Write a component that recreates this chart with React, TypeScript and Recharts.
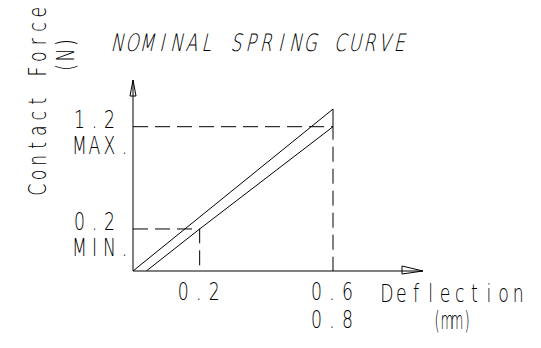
import React from "react";
import { LineChart, Line, XAxis, YAxis, ReferenceDot } from "recharts";

// ---- data ----
const TITLE = "NOMINAL SPRING CURVE";
const Y_LABEL = "Contact Force";
const Y_UNIT = "(N)";
const X_LABEL = "Deflection";
const X_UNIT = "(mm)";

const X_TICKS = [0.2, 0.6];
const X_TICK_LABELS = [["0.2"], ["0.6", "0.8"]];
const Y_TICKS = [0.2, 1.2];
const Y_TICK_LABELS = [["0.2", "MIN."], ["1.2", "MAX."]];

const X_MAX = 0.87;
const Y_MAX = 1.65;

// schematic (not-to-scale) force axis: value knots and their share of the axis height
const Y_KNOT_VALUES = [0, 0.2, 1.2, 1.65];
const Y_KNOT_SHARES = [0, 0.22, 0.7555, 1];

// spring curve band (upper and lower bounds)
const UPPER_CURVE = [
  { x: 0, y: 0 },
  { x: 0.6, y: 1.37 },
  { x: 0.6, y: 1.2 },
];
const LOWER_CURVE = [
  { x: 0.04, y: 0 },
  { x: 0.2, y: 0.2 },
  { x: 0.6, y: 1.2 },
];
// dashed guides
const MIN_GUIDE = [
  { x: 0, y: 0.2 },
  { x: 0.2, y: 0.2 },
  { x: 0.2, y: 0 },
];
const MAX_GUIDE = [
  { x: 0, y: 1.2 },
  { x: 0.6, y: 1.2 },
  { x: 0.6, y: 0 },
];

// ---- piecewise linear scale (d3-like) ----
function piecewiseScale(kv: number[], ks: number[]): any {
  let dom = [kv[0], kv[kv.length - 1]];
  let rng = [0, 1];
  const toShare = (v: number) => {
    let i = 0;
    while (i < kv.length - 2 && v > kv[i + 1]) i++;
    const t = (v - kv[i]) / (kv[i + 1] - kv[i]);
    return ks[i] + t * (ks[i + 1] - ks[i]);
  };
  const fromShare = (s: number) => {
    let i = 0;
    while (i < ks.length - 2 && s > ks[i + 1]) i++;
    const t = (s - ks[i]) / (ks[i + 1] - ks[i]);
    return kv[i] + t * (kv[i + 1] - kv[i]);
  };
  const scale: any = (v: number) => rng[0] + toShare(v) * (rng[1] - rng[0]);
  scale.domain = (d?: number[]) => {
    if (d === undefined) return dom.slice();
    dom = d.slice();
    return scale;
  };
  scale.range = (r?: number[]) => {
    if (r === undefined) return rng.slice();
    rng = r.slice();
    return scale;
  };
  scale.copy = () => piecewiseScale(kv, ks).domain(dom).range(rng);
  scale.ticks = () => kv.slice();
  scale.tickFormat = () => (v: number) => String(v);
  scale.invert = (px: number) => fromShare((px - rng[0]) / (rng[1] - rng[0]));
  scale.clamp = () => scale;
  scale.nice = () => scale;
  return scale;
}

const yScale = piecewiseScale(Y_KNOT_VALUES, Y_KNOT_SHARES);

const FONT = "'DejaVu Sans', sans-serif";
const FS = 24;
const SX = 0.72;
const INK = "#000";

// fixed-pitch, condensed, thin "CAD" lettering; one <text> per label
function CadText(props: any) {
  const { lines, x, y, pitch = 14.8, align = "start", gap = 26, rotate = false, italic = false, sx = SX, fs = FS } = props;
  return (
    <g transform={`translate(${x},${y})${rotate ? " rotate(-90)" : ""}${italic ? " skewX(-13)" : ""} scale(${sx},1)`}>
      <text fontFamily={FONT} fontWeight={200} fontSize={fs} fill={INK} textAnchor="middle">
        {lines.map((s: string, k: number) => {
          const chars = Array.from(s);
          const w = chars.length * pitch;
          const left = align === "middle" ? -w / 2 : 0;
          const xs = chars.map((_, i) => ((left + (i + 0.5) * pitch) / sx).toFixed(2)).join(" ");
          return (
            <tspan key={k} x={xs} y={k * gap}>
              {s}
            </tspan>
          );
        })}
      </text>
    </g>
  );
}

const YTick = (props: any) => {
  const { x, y, payload } = props;
  const i = Y_TICKS.indexOf(payload.value);
  const lines = i >= 0 ? Y_TICK_LABELS[i] : [String(payload.value)];
  return <CadText lines={lines} x={x - 61} y={y + 1} pitch={15} gap={26} />;
};

const XTick = (props: any) => {
  const { x, y, payload } = props;
  const i = X_TICKS.indexOf(payload.value);
  const lines = i >= 0 ? X_TICK_LABELS[i] : [String(payload.value)];
  return <CadText lines={lines} x={x - 1} y={y + 29} pitch={15.5} gap={28} align="middle" />;
};

const XArrow = (props: any) => {
  const { cx, cy } = props;
  return <path d={`M${cx - 21},${cy - 5} L${cx},${cy} L${cx - 21},${cy + 3} Z`} fill="none" stroke={INK} strokeWidth={1} />;
};
const YArrow = (props: any) => {
  const { cx, cy } = props;
  return <path d={`M${cx - 3},${cy + 16} L${cx},${cy} L${cx + 3},${cy + 16} Z`} fill="none" stroke={INK} strokeWidth={1} />;
};

export default function App() {
  return (
    <div style={{ position: "absolute", left: 0, top: 0, width: 541, height: 348, background: "#fff" }}>
      <LineChart width={541} height={348} margin={{ top: 80, right: 118, bottom: 0, left: 0 }}>
        <XAxis
          type="number"
          dataKey="x"
          domain={[0, X_MAX]}
          ticks={X_TICKS}
          interval={0}
          height={77}
          tickSize={0}
          tickMargin={0}
          tickLine={false}
          axisLine={{ stroke: INK, strokeWidth: 1 }}
          tick={<XTick />}
          allowDataOverflow
        />
        <YAxis
          type="number"
          dataKey="y"
          domain={[0, Y_MAX]}
          scale={yScale}
          ticks={Y_TICKS}
          interval={0}
          width={133}
          tickSize={0}
          tickMargin={0}
          tickLine={false}
          axisLine={{ stroke: INK, strokeWidth: 1 }}
          tick={<YTick />}
          allowDataOverflow
        />
        <Line data={MIN_GUIDE} dataKey="y" type="linear" stroke={INK} strokeWidth={1} strokeDasharray="15 7" dot={false} isAnimationActive={false} />
        <Line data={MAX_GUIDE} dataKey="y" type="linear" stroke={INK} strokeWidth={1} strokeDasharray="15 7" dot={false} isAnimationActive={false} />
        <Line data={UPPER_CURVE} dataKey="y" type="linear" stroke={INK} strokeWidth={1} dot={false} isAnimationActive={false} />
        <Line data={LOWER_CURVE} dataKey="y" type="linear" stroke={INK} strokeWidth={1} dot={false} isAnimationActive={false} />
        <ReferenceDot x={X_MAX} y={0} r={0} shape={XArrow} />
        <ReferenceDot x={0} y={Y_MAX} r={0} shape={YArrow} />
        <CadText lines={[TITLE]} x={109.5} y={51} pitch={14.85} italic />
        <CadText lines={[Y_LABEL]} x={45.5} y={101} pitch={14.8} align="middle" rotate />
        <CadText lines={[Y_UNIT]} x={73.5} y={55} pitch={12.5} align="middle" rotate />
        <CadText lines={[X_LABEL]} x={379.5} y={302} pitch={14.6} />
        <CadText lines={[X_UNIT]} x={452} y={329} pitch={10} sx={0.55} align="middle" />
      </LineChart>
    </div>
  );
}
